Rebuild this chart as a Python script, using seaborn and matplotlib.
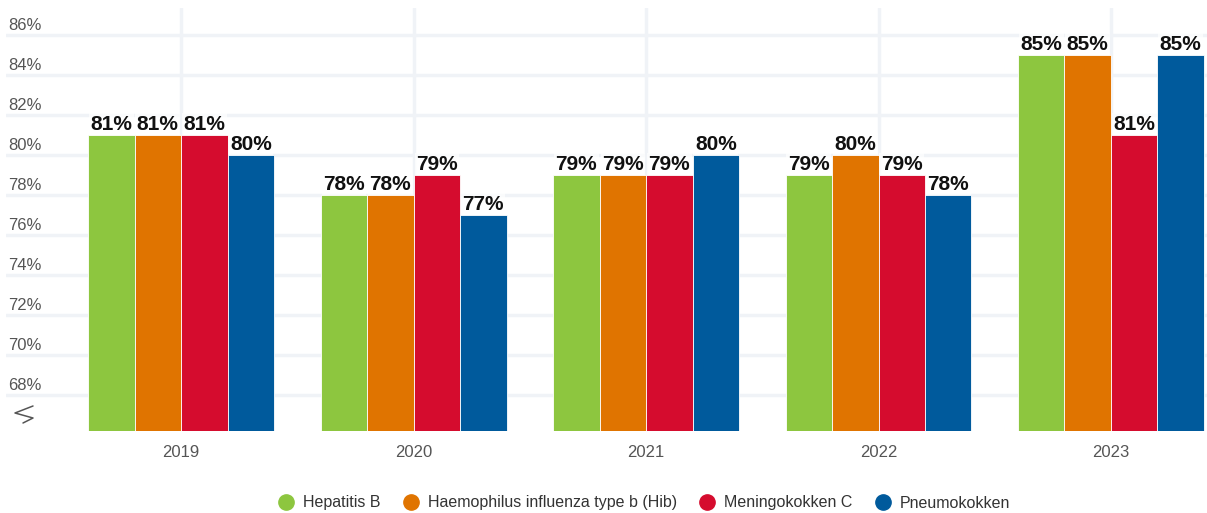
import matplotlib
matplotlib.use("Agg")
import matplotlib.pyplot as plt
from matplotlib.lines import Line2D
from matplotlib.transforms import ScaledTranslation
import seaborn as sns
import pandas as pd

years = ["2019", "2020", "2021", "2022", "2023"]
vaccines = ["Hepatitis B", "Haemophilus influenza type b (Hib)", "Meningokokken C", "Pneumokokken"]
hep_b = [81, 78, 79, 79, 85]
hib = [81, 78, 79, 80, 85]
men_c = [81, 79, 79, 79, 81]
pneumo = [80, 77, 80, 78, 85]
colors = ["#8dc63f", "#e07400", "#d50c2e", "#005a9c"]
yticks = [68, 70, 72, 74, 76, 78, 80, 82, 84, 86]

rows = []
for name, vals in zip(vaccines, [hep_b, hib, men_c, pneumo]):
    for y, v in zip(years, vals):
        rows.append((y, name, v))
df = pd.DataFrame(rows, columns=["jaar", "vaccin", "pct"])

sns.set_theme(style="white")
plt.rcParams["font.family"] = ["Liberation Sans", "DejaVu Sans"]

fig = plt.figure(figsize=(12.07, 5.13), dpi=100)
ax = fig.add_axes([6 / 1207, 1 - 431 / 513, 1 - 6 / 1207, (431 - 8) / 513])

sns.barplot(data=df, x="jaar", y="pct", hue="vaccin", hue_order=vaccines,
            palette=colors, saturation=1, width=0.8, edgecolor="white",
            linewidth=0.6, ax=ax, legend=False)

ax.set_axisbelow(True)
ax.grid(axis="both", color="#f0f3f7", linewidth=2.5)

ax.set_ylim(66.2, 87.35)
ax.set_xlim(-0.753, 4.413)
ax.set_yticks(yticks)
ax.tick_params(axis="y", left=False, labelleft=False)
ax.tick_params(axis="x", bottom=False, labelsize=12, labelcolor="#555555", pad=4)
ax.set_xlabel("")
ax.set_ylabel("")
for s in ax.spines.values():
    s.set_visible(False)

# y tick labels sit above their grid lines
off = ScaledTranslation(2 / 100, 2 / 100, fig.dpi_scale_trans)
for t in yticks:
    ax.text(0, t, f"{t}%", transform=ax.get_yaxis_transform() + off,
            ha="left", va="bottom", fontsize=12, color="#555555")

# axis break marker
bx = [33, 15, 33, 23]
by = [406, 413, 418, 423]
fig.add_artist(Line2D([x / 1207 for x in bx], [1 - y / 513 for y in by],
                      transform=fig.transFigure, color="#555555", linewidth=1.1))

for cont in ax.containers:
    labels = [f"{int(round(b.get_height()))}%" for b in cont]
    txts = ax.bar_label(cont, labels=labels, padding=1, fontsize=15,
                        fontweight="bold", color="#111111")
    for t in txts:
        t.set_bbox(dict(facecolor="white", alpha=0.7, edgecolor="none", pad=1))

handles = [Line2D([], [], marker="o", linestyle="", markersize=11,
                  markerfacecolor=c, markeredgecolor=c) for c in colors]
fig.legend(handles, vaccines, loc="center", bbox_to_anchor=(640 / 1207, 1 - 503 / 513),
           ncol=4, frameon=False, fontsize=11.5, handletextpad=0.05,
           columnspacing=0.9, labelcolor="#333333")

fig.savefig("out.png", dpi=100)
